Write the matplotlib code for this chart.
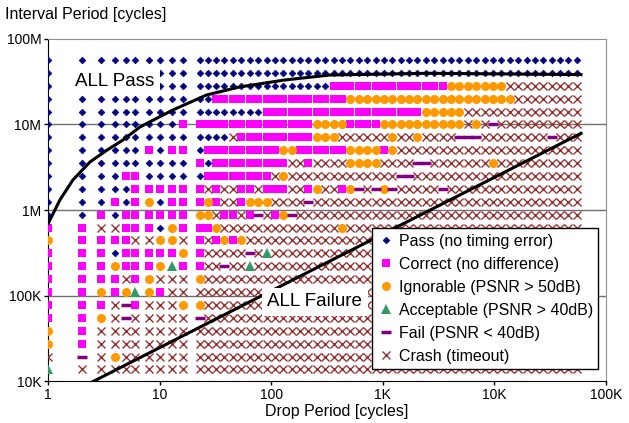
import matplotlib.pyplot as plt

plt.rcParams['font.family'] = ['Liberation Sans', 'DejaVu Sans']

# Drop period columns (cycles)
drop_period = [1, 2, 3, 4, 5, 6, 8, 10, 13, 16,
               23, 27, 32, 38, 45, 54, 64, 76, 91, 108,
               128, 152, 181, 215, 256, 304, 362, 431, 512, 609,
               724, 861, 1024, 1218, 1448, 1722, 2048, 2435, 2896, 3444,
               4096, 4871, 5793, 6889, 8192, 9742, 11585, 13777, 16384, 19484,
               23170, 27554, 32768, 38968, 46341, 55109]

# Interval period rows (cycles), top to bottom
interval_period = [56.6e6, 40e6, 28.3e6, 20e6, 14.1e6, 10e6, 7.07e6, 5e6, 3.54e6, 2.5e6,
                   1.77e6, 1.25e6, 884e3, 625e3, 442e3, 313e3, 221e3, 156e3, 110e3, 78e3,
                   55e3, 39e3, 27.6e3, 19.5e3, 13.8e3]

# One string per interval row, one letter per drop period column
# P pass, C correct, I ignorable, A acceptable, F fail, X crash
results = [
    "PPPPPPPPPP PPPPPPPPPP PPPPPPPPPP PPPPPPPPPP PPPPPPPPPP PPPPPP",
    "PPPPPPPPPP PPPPPPPPPP PPPPPPPPPP PPPPPPPPPP PPPPPPPPPP PPPPPP",
    "PPPPPPPPPP PPPPPPPPPP PPPPPPCCCC CCCCCCCCCC IIIIIIIXXX XXXXXX",
    "PPPPPPPPPP PPCCCCCCCC CCCCCCCCII IIIIIIIIII IIIIIIIIXX XXXXXX",
    "PPPPPPPPPP PPPPPPPPCC CCCCCCCCCC CCCCCCCIII IIXXXXXXXX XXXXXX",
    "PPPPPPPPPC CCCCCCCCCC CCCCIIIICC CCIIIIIIII IIXIXFXXXX XXXXXX",
    "PPPPPPPPPP PPPPXCCCCC CCCCIIIXXX XXXIXXIXXX XFFFXXXXXX XXFXXX",
    "PPPPPPCPCC PCCCCCCCCC IICCCCCCII IICIXXXXXX XXXXXXXXXX XXXXXX",
    "PPPPPPPPPP CPCCCCCCCC CXXCXXXXII IIXXXXFFXX XXXXXIXXXX XXXXXX",
    "PPPPCCPPPP PCCCCCCCCX IXXXXXXXXX XXXXFFXXXX XXXXXXXXXX XXXXXX",
    "PPPPPCCCCC CXCXXCCXCC CXXCIXXCIF XFIFXXXXXF XXXXXXXXXX XXXXXX",
    "PPPCPCIPCC CICXXCIIIX XXXFXXXXXX XXXXXXXXXX XXXXXXXXXX XXXXXX",
    "PPCPCCCCCC IIXCCXCFXC IFXXXXXXXX XXXXXXXXXX XXXXXXXXXX XXXXXX",
    "CCXXCCCPIC CCIXXXXXXX XXXXXXXIXX XXXXXXXXXX XXXXXXXXXX XXXXXX",
    "ICCCCXXIIX CXCICIXXXX XXXXXXXXXX XXXXXXXXXX XXXXXXXXXX XXXXXX",
    "CCCPCCCCCI CXXXXXFXAX XXXXXXXXXX XXXXXXXXXX XXXXXXXXXX XXXXXX",
    "CCCICCCIAC CXXFXXAXXX XXXXXXXXXX XXXXXXXXXX XXXXXXXXXX XXXXXX",
    "CCCCXCIXXX IXXXXXXXXX XXXXXXXXXX XXXXXXXXXX XXXXXXXXXX XXXXXX",
    "CCICIAICXX XXXXXXXXXX XXXXXXXXXX XXXXXXXXXX XXXXXXXXXX XXXXXX",
    "CCCXFCXXXI IXXXXXXXXX XXXXXXXXXX XXXXXXXXXX XXXXXXXXXX XXXXXX",
    "CCIXFXXXXX FXXXXXXXXX XXXXXXXXXX XXXXXXXXXX XXXXXXXXXX XXXXXX",
    "ICXXXXXXXX XXXXXXXXXX XXXXXXXXXX XXXXXXXXXX XXXXXXXXXX XXXXXX",
    "ICXXXXXXXX XXXXXXXXXX XXXXXXXXXX XXXXXXXXXX XXXXXXXXXX XXXXXX",
    "XFXIXXXXXX XXXXXXXXXX XXXXXXXXXX XXXXXXXXXX XXXXXXXXXX XXXXXX",
    "AXXXXXXXXX XXXXXXXXXX XXXXXXXXXX XXXXXXXXXX XXXXXXXXXX XXXXXX",
]

# boundary curves
pass_curve_x = [1, 1.27, 1.66, 2.36, 3.36, 4.67, 6.63, 13.1, 26.3, 52, 132, 334, 2600, 60000]
pass_curve_y = [0.70e6, 1.31e6, 2.24e6, 3.63e6, 5.0e6, 6.56e6, 9.3e6, 14.7e6, 22e6, 27.3e6,
                32.9e6, 37.6e6, 39.4e6, 38.0e6]
fail_line_x = [2.53, 60000]
fail_line_y = [1e4, 7.85e6]

categories = ['P', 'C', 'I', 'A', 'F', 'X']
labels = {'P': 'Pass (no timing error)', 'C': 'Correct (no difference)',
          'I': 'Ignorable (PSNR > 50dB)', 'A': 'Acceptable (PSNR > 40dB)',
          'F': 'Fail (PSNR < 40dB)', 'X': 'Crash (timeout)'}
styles = {
    'P': dict(marker='D', ms=3.4, mfc='#000080', mec='#000080', mew=0.5),
    'C': dict(marker='s', ms=6.1, mfc='#FF00FF', mec='#FF00FF', mew=0),
    'I': dict(marker='o', ms=6.5, mfc='#FF9900', mec='#FF9900', mew=0),
    'A': dict(marker='^', ms=6.5, mfc='#339966', mec='#339966', mew=0),
    'F': dict(marker='_', ms=6.5, mfc='#800080', mec='#800080', mew=2.5),
    'X': dict(marker='x', ms=6.0, mfc='#993333', mec='#993333', mew=1.0),
}

rows = [r.replace(' ', '') for r in results]
assert all(len(r) == len(drop_period) for r in rows)

pts = {k: ([], []) for k in categories}
for yv, row in zip(interval_period, rows):
    for xv, ch in zip(drop_period, row):
        pts[ch][0].append(xv)
        pts[ch][1].append(yv)

fig = plt.figure(figsize=(6.29, 4.23), dpi=100)
ax = fig.add_axes([0.0768, 0.0983, 0.8862, 0.8104])

for k in categories:
    ax.plot(pts[k][0], pts[k][1], ls='none', label=labels[k], zorder=3, **styles[k])

ax.plot(pass_curve_x, pass_curve_y, color='black', lw=2.2, zorder=4)
ax.plot(fail_line_x, fail_line_y, color='black', lw=2.2, zorder=4)

ax.set_xscale('log')
ax.set_yscale('log')
ax.set_xlim(1, 1e5)
ax.set_ylim(1e4, 1e8)

ax.set_xticks([1, 10, 100, 1e3, 1e4, 1e5])
ax.set_xticklabels(['1', '10', '100', '1K', '10K', '100K'])
ax.set_yticks([1e4, 1e5, 1e6, 1e7, 1e8])
ax.set_yticklabels(['10K', '100K', '1M', '10M', '100M'])
ax.minorticks_off()
ax.tick_params(axis='both', which='major', labelsize=10, length=3, width=1,
               direction='out', pad=2)

for y in [1e5, 1e6, 1e7]:
    ax.axhline(y, color='#707070', lw=1, zorder=1)

ax.spines['top'].set_color('#909090')
ax.spines['right'].set_color('#909090')
for s in ['left', 'bottom']:
    ax.spines[s].set_color('black')

ax.text(3.96, 32e6, 'ALL Pass', fontsize=13.5, ha='center', va='center', zorder=5,
        bbox=dict(boxstyle='square,pad=0.3', fc='white', ec='none'))
ax.text(245, 84.5e3, 'ALL Failure', fontsize=13.5, ha='center', va='center', zorder=5,
        bbox=dict(boxstyle='square,pad=0.3', fc='white', ec='none'))

leg = ax.legend(loc='upper left', bbox_to_anchor=(0.581, 0.4475), borderaxespad=0,
                fontsize=11.5, frameon=True, fancybox=False, framealpha=1,
                edgecolor='black', handlelength=1.0, handletextpad=0.3,
                labelspacing=0.5, borderpad=0.35)
leg.get_frame().set_linewidth(1)
leg.set_zorder(10)

fig.text(5 / 629, 1 - 14 / 423, 'Interval Period [cycles]', fontsize=11.5, va='center', ha='left')
fig.text(337 / 629, 1 - 411 / 423, 'Drop Period [cycles]', fontsize=11.5, va='center', ha='center')

fig.savefig('out.png', dpi=100)
